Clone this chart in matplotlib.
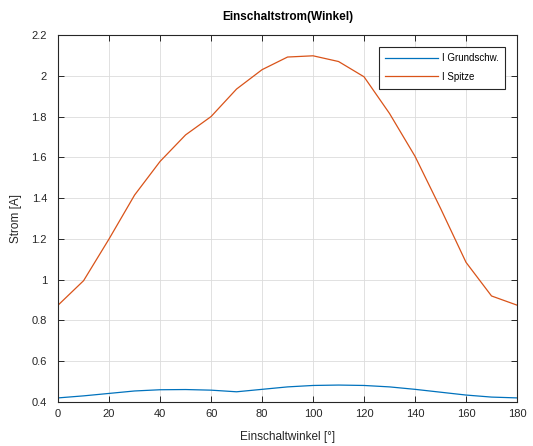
import matplotlib
matplotlib.use("Agg")
import matplotlib.pyplot as plt
import numpy as np

plt.rcParams['font.family'] = ['Liberation Sans', 'DejaVu Sans']

winkel = [0, 10, 20, 30, 40, 50, 60, 70, 80, 90, 100, 110, 120, 130, 140, 150, 160, 170, 180]
i_grund = [0.420, 0.430, 0.442, 0.454, 0.460, 0.461, 0.458, 0.450, 0.462, 0.474, 0.481, 0.483, 0.481, 0.474, 0.462, 0.448, 0.434, 0.424, 0.420]
i_spitze = [0.875, 0.995, 1.20, 1.415, 1.58, 1.71, 1.80, 1.935, 2.03, 2.092, 2.098, 2.07, 1.995, 1.815, 1.605, 1.35, 1.085, 0.92, 0.875]

fig = plt.figure(figsize=(5.33, 4.46), dpi=100)
ax = fig.add_axes([0.109, 0.0987, 0.861, 0.8228])

ax.plot(winkel, i_grund, color='#0072BD', lw=0.9, label='I Grundschw.')
ax.plot(winkel, i_spitze, color='#D95319', lw=0.9, label='I Spitze')

ax.set_xlim(0, 180)
ax.set_ylim(0.4, 2.2)
ax.set_xticks(np.arange(0, 181, 20))
ax.set_yticks(np.arange(0.4, 2.21, 0.2))
ax.set_yticklabels(['0.4', '0.6', '0.8', '1', '1.2', '1.4', '1.6', '1.8', '2', '2.2'])
ax.grid(True, color='#dcdcdc', lw=0.6)
ax.set_axisbelow(True)
ax.tick_params(direction='in', length=4, width=0.7, colors='#262626', labelsize=8,
               top=True, right=True)
ax.tick_params(axis='y', pad=8)
ax.tick_params(axis='x', pad=5)
for s in ax.spines.values():
    s.set_color('#262626')
    s.set_linewidth(0.8)

ax.set_title('Einschaltstrom(Winkel)', fontsize=8.5, fontweight='bold', color='black', pad=11)
ax.set_xlabel('Einschaltwinkel [°]', fontsize=8.5, color='#262626', labelpad=9)
ax.set_ylabel('Strom [A]', fontsize=8.5, color='#262626', labelpad=7)

leg = ax.legend(loc='upper right', fontsize=7, frameon=True, fancybox=False,
                edgecolor='#262626', framealpha=1, handlelength=5.4, handletextpad=0.4,
                labelspacing=0.85, borderpad=0.7, borderaxespad=1.2)
leg.get_frame().set_linewidth(0.8)

fig.savefig('out.png', dpi=100)
